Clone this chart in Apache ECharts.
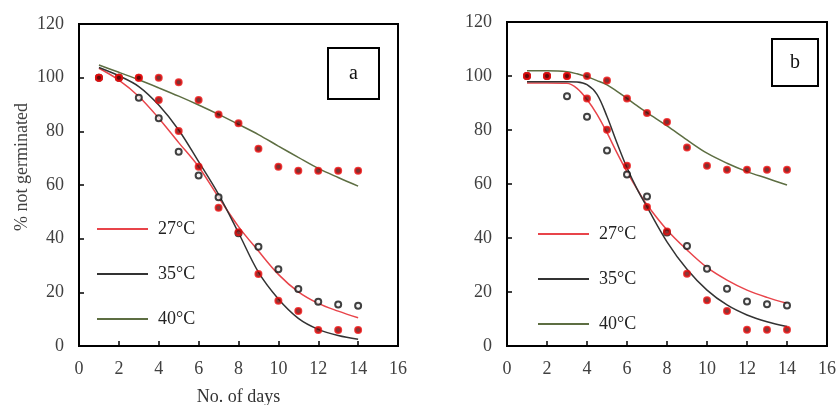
<!DOCTYPE html>
<html>
<head>
<meta charset="utf-8">
<script src="https://cdn.jsdelivr.net/npm/echarts@6/dist/echarts.min.js"></script>
<style>
  html, body { margin: 0; padding: 0; background: #fff; }
  #chart { width: 839px; height: 405px; }
</style>
</head>
<body>
<div id="chart"></div>
<script>
// observed points (same in both panels)
var days = [1, 2, 3, 4, 5, 6, 7, 8, 9, 10, 11, 12, 13, 14];
var obs27 = [100, 100, 100, 91.7, 80.1, 66.8, 51.5, 42.4, 26.8, 16.9, 13.0, 6.0, 6.0, 6.0];
var obs35 = [100, 100, 92.5, 84.9, 72.4, 63.5, 55.4, 42.0, 37.0, 28.6, 21.2, 16.5, 15.5, 15.0];
var obs40 = [100, 100, 100, 100, 98.3, 91.7, 86.3, 83.0, 73.5, 66.8, 65.3, 65.3, 65.3, 65.3];

// fitted curves, panel a
var fitDaysA = [1, 2, 3, 4, 5, 6, 7, 8, 9, 10, 11, 12, 13, 14];
var fitA27 = [103.5, 99.1, 93.0, 84.9, 75.8, 66.8, 55.4, 44.5, 35.4, 26.7, 20.2, 15.9, 13.0, 10.5];
var fitA35 = [103.8, 100.7, 96.7, 89.8, 80.5, 68.7, 56.5, 42.2, 27.5, 17.5, 10.3, 6.2, 3.9, 2.5];
var fitA40 = [104.7, 102.0, 99.2, 96.2, 93.1, 89.8, 86.3, 82.6, 78.8, 74.5, 70.3, 66.2, 62.8, 59.6];

// fitted curves, panel b
var fitDaysB = [1, 2, 3, 3.5, 4, 4.5, 5, 5.5, 6, 6.5, 7, 8, 9, 10, 11, 12, 13, 14];
var fitB27 = [97.4, 97.4, 97.3, 95.4, 91.3, 85.8, 79.0, 71.5, 64.5, 58.2, 52.3, 43.0, 35.6, 29.1, 24.4, 20.7, 18.0, 15.8];
var fitB35 = [97.9, 97.9, 97.9, 97.8, 96.8, 93.2, 85.0, 75.2, 66.0, 58.2, 51.5, 38.6, 28.4, 20.7, 15.2, 11.5, 9.0, 7.2];
var fitB40 = [101.9, 101.9, 101.6, 100.8, 99.7, 98.3, 96.7, 94.3, 91.7, 89.0, 86.4, 81.5, 76.3, 71.4, 67.7, 64.6, 62.1, 59.6];

var names = ['27°C', '35°C', '40°C'];
var lineColors = ['#e8444a', '#333333', '#5d6e42'];

function pairs(xs, ys) {
  return xs.map(function (x, i) { return [x, ys[i]]; });
}

var serif = 'Liberation Serif';
var chart = echarts.init(document.getElementById('chart'));

function xAxis(idx, withName) {
  return {
    type: 'value', gridIndex: idx, min: 0, max: 16, interval: 2,
    name: withName ? 'No. of days' : '',
    nameLocation: 'middle', nameGap: 42,
    nameTextStyle: { fontFamily: serif, fontSize: 18, color: '#333' },
    axisLine: { lineStyle: { color: '#000', width: 2 } },
    axisTick: { inside: true, length: 5, lineStyle: { color: '#000', width: 1.5 } },
    axisLabel: { fontFamily: serif, fontSize: 18, color: '#404040', margin: 14 },
    splitLine: { show: false }
  };
}

function yAxis(idx, withName) {
  return {
    type: 'value', gridIndex: idx, min: 0, max: 120, interval: 20,
    name: withName ? '% not germinated' : '',
    nameLocation: 'middle', nameGap: 48,
    nameTextStyle: { fontFamily: serif, fontSize: 18, color: '#404040', padding: [0, 0, 0, 36] },
    axisLine: { lineStyle: { color: '#000', width: 2 } },
    axisTick: { inside: true, length: 5, lineStyle: { color: '#000', width: 1.5 } },
    axisLabel: { fontFamily: serif, fontSize: 18, color: '#404040', margin: 15 },
    splitLine: { show: false }
  };
}

function lineSeries(idx, name, color, xs, ys) {
  return {
    name: name, type: 'line', xAxisIndex: idx, yAxisIndex: idx,
    data: pairs(xs, ys), smooth: 0.35, symbol: 'none',
    lineStyle: { color: color, width: 1.5 }, itemStyle: { color: color },
    z: 2
  };
}

function dotSeries(idx, ys, ring, fill) {
  return {
    type: 'scatter', xAxisIndex: idx, yAxisIndex: idx,
    data: pairs(days, ys), symbol: 'circle', symbolSize: 6,
    itemStyle: { color: fill, borderColor: ring, borderWidth: 2 },
    z: 3
  };
}

function legend(left, top) {
  return {
    orient: 'vertical', left: left, top: top,
    data: names, itemWidth: 51, itemHeight: 14, itemGap: 27,
    itemStyle: { opacity: 0 },
    textStyle: { fontFamily: serif, fontSize: 18, color: '#222', padding: [0, 0, 0, 5] },
    selectedMode: false
  };
}

var series = [];
[0, 1].forEach(function (p) {
  var xs = p === 0 ? fitDaysA : fitDaysB;
  var fits = p === 0 ? [fitA27, fitA35, fitA40] : [fitB27, fitB35, fitB40];
  fits.forEach(function (f, i) { series.push(lineSeries(p, names[i], lineColors[i], xs, f)); });
  series.push(dotSeries(p, obs35, '#111', '#f4f4f4'));
  series.push(dotSeries(p, obs27, '#e81010', '#6a0808'));
  series.push(dotSeries(p, obs40, '#e81010', '#5a0000'));
});

chart.setOption({
  backgroundColor: '#fff',
  animation: false,
  grid: [
    { left: 79, top: 24, width: 319, height: 322, show: true, borderColor: '#000', borderWidth: 2, outerBoundsMode: 'none' },
    { left: 507, top: 22, width: 320, height: 324, show: true, borderColor: '#000', borderWidth: 2, outerBoundsMode: 'none' }
  ],
  xAxis: [xAxis(0, true), xAxis(1, false)],
  yAxis: [yAxis(0, true), yAxis(1, false)],
  legend: [legend(91, 215), legend(532, 220)],
  graphic: [
    { type: 'rect', shape: { x: 328, y: 48, width: 51, height: 51 }, style: { fill: '#fff', stroke: '#000', lineWidth: 2 }, z: 10 },
    { type: 'text', x: 353.5, y: 73.5, style: { text: 'a', fontFamily: serif, fontSize: 20, fill: '#111', align: 'center', verticalAlign: 'middle' }, z: 11 },
    { type: 'rect', shape: { x: 772, y: 39, width: 46, height: 47 }, style: { fill: '#fff', stroke: '#000', lineWidth: 2 }, z: 10 },
    { type: 'text', x: 795, y: 62.5, style: { text: 'b', fontFamily: serif, fontSize: 20, fill: '#111', align: 'center', verticalAlign: 'middle' }, z: 11 }
  ],
  series: series
});
</script>
</body>
</html>
